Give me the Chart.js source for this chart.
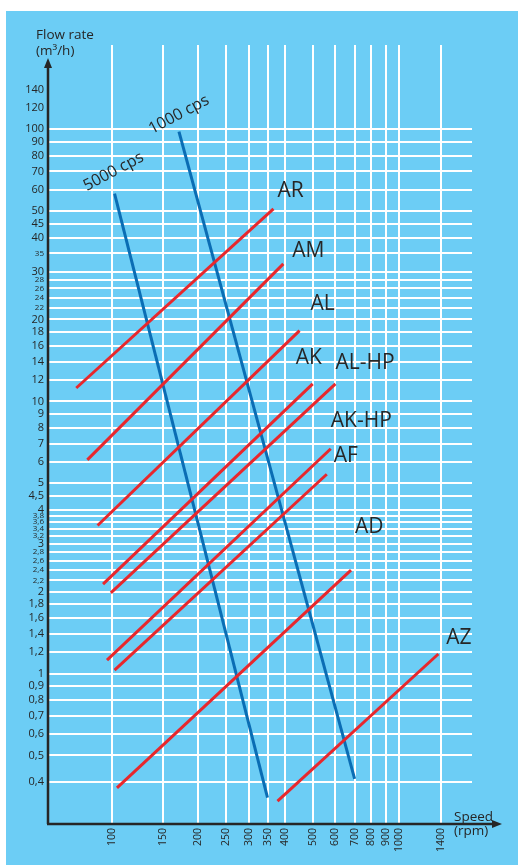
<!DOCTYPE html>
<html>
<head>
<meta charset="utf-8">
<style>
  html, body { margin: 0; padding: 0; background: #fff; }
  #wrap { width: 518px; height: 865px; }
</style>
<script src="https://cdn.jsdelivr.net/npm/chart.js@4.4.1/dist/chart.umd.min.js"></script>
</head>
<body>
<div id="wrap"><canvas id="pump-chart"></canvas></div>
<script>
// Axis ticks
const speedTicks = [100, 150, 200, 250, 300, 350, 400, 500, 600, 700, 800, 900, 1000, 1400];
const flowTicks = [140, 120, 100, 90, 80, 70, 60, 50, 45, 40, 35, 30, 28, 26, 24, 22, 20, 18, 16, 14, 12,
    10, 9, 8, 7, 6, 5, 4.5, 4, 3.8, 3.6, 3.4, 3.2, 3, 2.8, 2.6, 2.4, 2.2, 2, 1.8, 1.6, 1.4, 1.2,
    1, 0.9, 0.8, 0.7, 0.6, 0.5, 0.4];
const smallFlowTicks = [35, 28, 26, 24, 22, 3.8, 3.6, 3.4, 3.2, 2.8, 2.6, 2.4, 2.2];

// Pump models: speed (rpm) and flow rate (m3/h) at both ends of each line
const models = ['AR', 'AM', 'AL', 'AK', 'AL-HP', 'AK-HP', 'AF', 'AD', 'AZ'];
const modelSpeed = [[75, 365], [82, 395], [89, 450], [93, 500], [99, 600], [96, 578], [102, 560], [104, 680], [377, 1370]];
const modelFlow = [[11.2, 51], [6.1, 32], [3.5, 18.2], [2.13, 11.6], [1.98, 11.6], [1.12, 6.7], [1.03, 5.4], [0.38, 2.4], [0.34, 1.18]];

// Viscosity limits
const viscosity = ['5000 cps', '1000 cps'];
const viscSpeed = [[102, 348], [171, 700]];
const viscFlow = [[58, 0.35], [98, 0.41]];

const FONT = '"Open Sans", "Liberation Sans", sans-serif';
const TEXT = '#262626';
const RED = '#e8272c';
const BLUE = '#0a6db4';

// label placement next to the upper end of each line (px)
const modelLabelShift = [[4, -12], [9, -7], [11, -21], [-17, -20], [0, -15], [0, -22], [7, -12], [4, -37], [8, -10]];
const viscLabelShift = [[-1, -22], [0, -17]];

function lineData(xs, ys) {
    return [{ x: xs[0], y: ys[0] }, { x: xs[1], y: ys[1] }];
}

const datasets = [];
models.forEach((name, i) => {
    datasets.push({
        label: name,
        data: lineData(modelSpeed[i], modelFlow[i]),
        borderColor: RED,
        borderWidth: 3,
        showLine: true,
        pointRadius: 0
    });
});
viscosity.forEach((name, i) => {
    datasets.push({
        label: name,
        data: lineData(viscSpeed[i], viscFlow[i]),
        borderColor: BLUE,
        borderWidth: 3,
        showLine: true,
        pointRadius: 0
    });
});

const decorPlugin = {
    id: 'decor',
    beforeDraw(chart) {
        const ctx = chart.ctx;
        ctx.save();
        ctx.fillStyle = '#6ccdf5';
        ctx.fillRect(6, 11, chart.width - 6, chart.height - 11);
        ctx.restore();
    },
    afterDraw(chart) {
        const ctx = chart.ctx;
        const area = chart.chartArea;
        const xs = chart.scales.x, ys = chart.scales.y;
        ctx.save();

        // axes with arrows
        ctx.strokeStyle = TEXT;
        ctx.fillStyle = TEXT;
        ctx.lineWidth = 2.5;
        ctx.beginPath();
        ctx.moveTo(area.left, area.bottom);
        ctx.lineTo(area.left, 66);
        ctx.moveTo(area.left - 1, area.bottom);
        ctx.lineTo(494, area.bottom);
        ctx.stroke();
        ctx.beginPath();
        ctx.moveTo(area.left, 58);
        ctx.lineTo(area.left - 4, 68);
        ctx.lineTo(area.left + 4, 68);
        ctx.closePath();
        ctx.fill();
        ctx.beginPath();
        ctx.moveTo(502, area.bottom);
        ctx.lineTo(492, area.bottom - 4);
        ctx.lineTo(492, area.bottom + 4);
        ctx.closePath();
        ctx.fill();

        // axis titles
        ctx.textAlign = 'left';
        ctx.textBaseline = 'alphabetic';
        ctx.font = '13.5px ' + FONT;
        ctx.fillText('Flow rate', 36, 39);
        ctx.fillText('(m\u00b3/h)', 36, 55);
        ctx.fillText('Speed', 454, 821);
        ctx.fillText('(rpm)', 454, 835);

        // model labels
        ctx.font = '21px ' + FONT;
        models.forEach((name, i) => {
            const px = xs.getPixelForValue(modelSpeed[i][1]);
            const py = ys.getPixelForValue(modelFlow[i][1]);
            ctx.fillText(name, px + modelLabelShift[i][0], py + modelLabelShift[i][1]);
        });

        // viscosity labels
        ctx.font = '16px ' + FONT;
        ctx.textAlign = 'center';
        ctx.textBaseline = 'middle';
        viscosity.forEach((name, i) => {
            const px = xs.getPixelForValue(viscSpeed[i][0]) + viscLabelShift[i][0];
            const py = ys.getPixelForValue(viscFlow[i][0]) + viscLabelShift[i][1];
            ctx.save();
            ctx.translate(px, py);
            ctx.rotate(-28 * Math.PI / 180);
            ctx.fillText(name, 0, 0);
            ctx.restore();
        });
        ctx.restore();
    }
};

new Chart(document.getElementById('pump-chart'), {
    type: 'scatter',
    data: { datasets: datasets },
    options: {
        responsive: true,
        maintainAspectRatio: false,
        animation: false,
        layout: {
            padding: { left: 0, top: 45, right: 46, bottom: 0 }
        },
        plugins: {
            legend: { display: false },
            tooltip: { enabled: false }
        },
        scales: {
            x: {
                type: 'logarithmic',
                min: 59.8,
                max: 1795,
                bounds: 'data',
                afterBuildTicks: scale => {
                    scale.ticks = speedTicks.map(v => ({ value: v }));
                },
                afterFit: scale => { scale.height = 41; },
                border: { display: false },
                grid: { color: '#ffffff', lineWidth: 2, drawTicks: false },
                ticks: {
                    autoSkip: false,
                    minRotation: 90,
                    maxRotation: 90,
                    padding: 4,
                    color: TEXT,
                    font: { family: FONT, size: 10.5 },
                    callback: v => String(v)
                }
            },
            y: {
                type: 'logarithmic',
                min: 0.28,
                max: 204,
                bounds: 'data',
                afterBuildTicks: scale => {
                    scale.ticks = flowTicks.map(v => ({ value: v }));
                },
                afterFit: scale => { scale.width = 48; },
                border: { display: false },
                grid: {
                    color: c => (c.tick && c.tick.value > 100) ? 'rgba(0,0,0,0)' : '#ffffff',
                    lineWidth: 2,
                    drawTicks: false
                },
                ticks: {
                    autoSkip: false,
                    padding: 4,
                    color: TEXT,
                    font: c => ({
                        family: FONT,
                        size: (c.tick && smallFlowTicks.includes(c.tick.value)) ? 8 : 11
                    }),
                    callback: v => String(v).replace('.', ',')
                }
            }
        }
    },
    plugins: [decorPlugin]
});
</script>
</body>
</html>
